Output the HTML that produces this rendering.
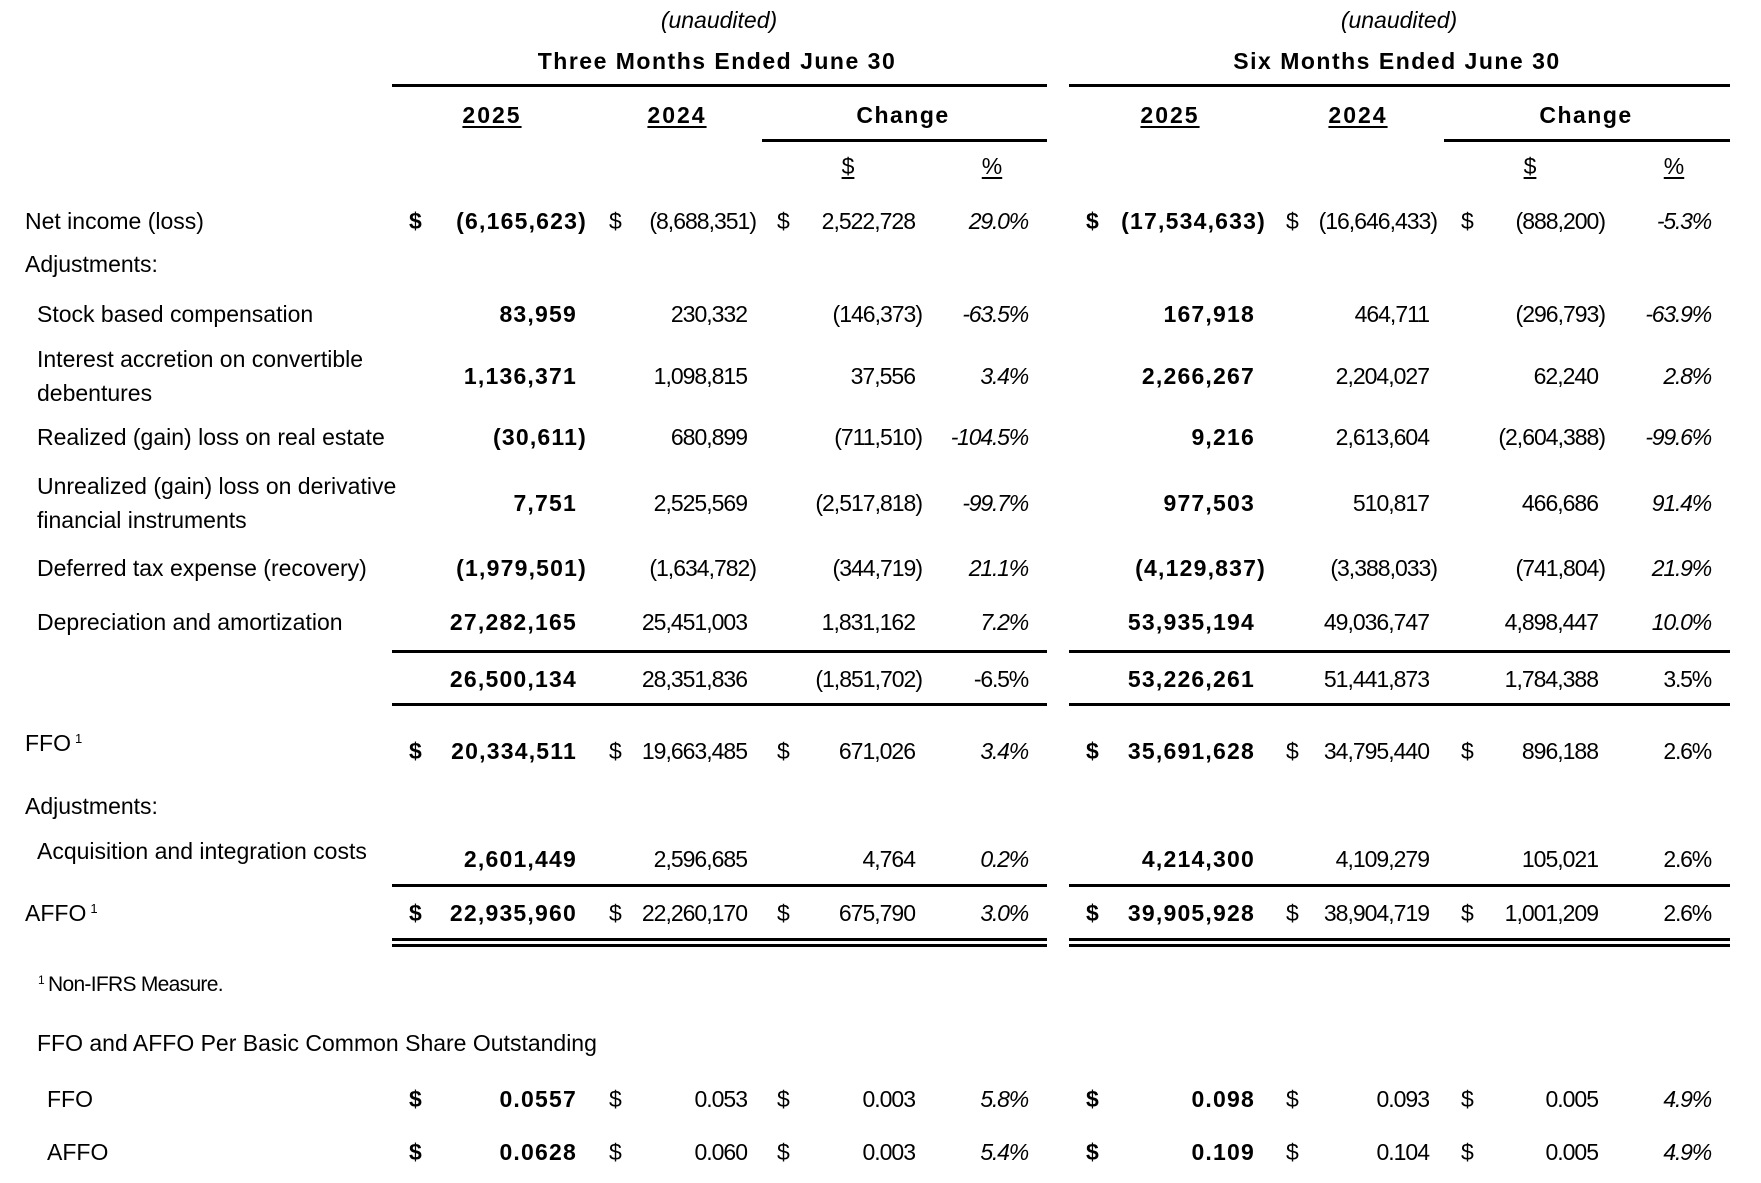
<!DOCTYPE html>
<html>
<head>
<meta charset="utf-8">
<style>
html,body{margin:0;padding:0;background:#fff;}
body{width:1761px;height:1183px;position:relative;overflow:hidden;font-family:"Liberation Sans",Arial,sans-serif;color:#000;}
.row{position:absolute;left:0;width:1761px;height:30px;}
.t{position:absolute;top:0;height:30px;line-height:30px;font-size:23px;white-space:nowrap;}
.b{font-weight:bold;letter-spacing:1.2px;}
.n{letter-spacing:-1px;}
.p{font-style:italic;letter-spacing:-1.2px;}
.pu{letter-spacing:-1.2px;}
.c1{right:1184px}.c1p{right:1174px}
.c2{right:1014px}.c2p{right:1005px}
.c3{right:846px}.c3p{right:839px}
.c4{right:733px}
.c5{right:506px}.c5p{right:495px}
.c6{right:332px}.c6p{right:324px}
.c7{right:163px}.c7p{right:156px}
.c8{right:50px}
.d1{left:409px}.d2{left:609px}.d3{left:777px}.d5{left:1086px}.d6{left:1286px}.d7{left:1461px}
.l0{left:25px}.l1{left:37px}.l2{left:47px}
.ln{position:absolute;background:#000;height:3px;}
.ctr{position:absolute;top:0;height:30px;line-height:30px;font-size:23px;white-space:nowrap;text-align:center;width:400px;}
.hd{font-weight:bold;letter-spacing:1.5px;}
.yr{font-weight:bold;letter-spacing:2px;text-decoration:underline;text-decoration-thickness:2px;text-underline-offset:3px;}
.ul{text-decoration:underline;text-decoration-thickness:2px;text-underline-offset:3px;}
.sup{position:relative;top:-8px;font-size:13px;margin-left:4px;}
</style>
</head>
<body>

<!-- header -->
<div class="row" style="top:5px">
  <div class="ctr" style="left:519px;font-style:italic">(unaudited)</div>
  <div class="ctr" style="left:1199px;font-style:italic">(unaudited)</div>
</div>
<div class="row" style="top:46px">
  <div class="ctr hd" style="left:517px">Three Months Ended June 30</div>
  <div class="ctr hd" style="left:1197px">Six Months Ended June 30</div>
</div>
<div class="ln" style="top:84px;left:392px;width:655px"></div>
<div class="ln" style="top:84px;left:1069px;width:661px"></div>

<div class="row" style="top:100px">
  <div class="ctr" style="left:292px"><span class="yr">2025</span></div>
  <div class="ctr" style="left:477px"><span class="yr">2024</span></div>
  <div class="ctr hd" style="left:703px">Change</div>
  <div class="ctr" style="left:970px"><span class="yr">2025</span></div>
  <div class="ctr" style="left:1158px"><span class="yr">2024</span></div>
  <div class="ctr hd" style="left:1386px">Change</div>
</div>
<div class="ln" style="top:139px;left:762px;width:285px"></div>
<div class="ln" style="top:139px;left:1444px;width:286px"></div>

<div class="row" style="top:151px">
  <div class="ctr" style="left:648px"><span class="ul">$</span></div>
  <div class="ctr" style="left:792px"><span class="ul">%</span></div>
  <div class="ctr" style="left:1330px"><span class="ul">$</span></div>
  <div class="ctr" style="left:1474px"><span class="ul">%</span></div>
</div>

<!-- Net income -->
<div class="row" style="top:206px">
  <div class="t l0">Net income (loss)</div>
  <div class="t b d1">$</div><div class="t b c1p">(6,165,623)</div>
  <div class="t d2">$</div><div class="t n c2p">(8,688,351)</div>
  <div class="t d3">$</div><div class="t n c3">2,522,728</div>
  <div class="t p c4">29.0%</div>
  <div class="t b d5">$</div><div class="t b c5p">(17,534,633)</div>
  <div class="t d6">$</div><div class="t n c6p">(16,646,433)</div>
  <div class="t d7">$</div><div class="t n c7p">(888,200)</div>
  <div class="t p c8">-5.3%</div>
</div>

<div class="row" style="top:249px"><div class="t l0">Adjustments:</div></div>

<div class="row" style="top:299px">
  <div class="t l1">Stock based compensation</div>
  <div class="t b c1">83,959</div>
  <div class="t n c2">230,332</div>
  <div class="t n c3p">(146,373)</div>
  <div class="t p c4">-63.5%</div>
  <div class="t b c5">167,918</div>
  <div class="t n c6">464,711</div>
  <div class="t n c7p">(296,793)</div>
  <div class="t p c8">-63.9%</div>
</div>

<div class="row" style="top:344px"><div class="t l1">Interest accretion on convertible</div></div>
<div class="row" style="top:378px"><div class="t l1">debentures</div></div>
<div class="row" style="top:361px">
  <div class="t b c1">1,136,371</div>
  <div class="t n c2">1,098,815</div>
  <div class="t n c3">37,556</div>
  <div class="t p c4">3.4%</div>
  <div class="t b c5">2,266,267</div>
  <div class="t n c6">2,204,027</div>
  <div class="t n c7">62,240</div>
  <div class="t p c8">2.8%</div>
</div>

<div class="row" style="top:422px">
  <div class="t l1">Realized (gain) loss on real estate</div>
  <div class="t b c1p">(30,611)</div>
  <div class="t n c2">680,899</div>
  <div class="t n c3p">(711,510)</div>
  <div class="t p c4">-104.5%</div>
  <div class="t b c5">9,216</div>
  <div class="t n c6">2,613,604</div>
  <div class="t n c7p">(2,604,388)</div>
  <div class="t p c8">-99.6%</div>
</div>

<div class="row" style="top:471px"><div class="t l1">Unrealized (gain) loss on derivative</div></div>
<div class="row" style="top:505px"><div class="t l1">financial instruments</div></div>
<div class="row" style="top:488px">
  <div class="t b c1">7,751</div>
  <div class="t n c2">2,525,569</div>
  <div class="t n c3p">(2,517,818)</div>
  <div class="t p c4">-99.7%</div>
  <div class="t b c5">977,503</div>
  <div class="t n c6">510,817</div>
  <div class="t n c7">466,686</div>
  <div class="t p c8">91.4%</div>
</div>

<div class="row" style="top:553px">
  <div class="t l1">Deferred tax expense (recovery)</div>
  <div class="t b c1p">(1,979,501)</div>
  <div class="t n c2p">(1,634,782)</div>
  <div class="t n c3p">(344,719)</div>
  <div class="t p c4">21.1%</div>
  <div class="t b c5p">(4,129,837)</div>
  <div class="t n c6p">(3,388,033)</div>
  <div class="t n c7p">(741,804)</div>
  <div class="t p c8">21.9%</div>
</div>

<div class="row" style="top:607px">
  <div class="t l1">Depreciation and amortization</div>
  <div class="t b c1">27,282,165</div>
  <div class="t n c2">25,451,003</div>
  <div class="t n c3">1,831,162</div>
  <div class="t p c4">7.2%</div>
  <div class="t b c5">53,935,194</div>
  <div class="t n c6">49,036,747</div>
  <div class="t n c7">4,898,447</div>
  <div class="t p c8">10.0%</div>
</div>

<div class="ln" style="top:650px;left:392px;width:655px"></div>
<div class="ln" style="top:650px;left:1069px;width:661px"></div>

<div class="row" style="top:664px">
  <div class="t b c1">26,500,134</div>
  <div class="t n c2">28,351,836</div>
  <div class="t n c3p">(1,851,702)</div>
  <div class="t pu c4">-6.5%</div>
  <div class="t b c5">53,226,261</div>
  <div class="t n c6">51,441,873</div>
  <div class="t n c7">1,784,388</div>
  <div class="t pu c8">3.5%</div>
</div>

<div class="ln" style="top:703px;left:392px;width:655px"></div>
<div class="ln" style="top:703px;left:1069px;width:661px"></div>

<div class="row" style="top:728px"><div class="t l0">FFO<span class="sup">1</span></div></div>
<div class="row" style="top:736px">
  <div class="t b d1">$</div><div class="t b c1">20,334,511</div>
  <div class="t d2">$</div><div class="t n c2">19,663,485</div>
  <div class="t d3">$</div><div class="t n c3">671,026</div>
  <div class="t p c4">3.4%</div>
  <div class="t b d5">$</div><div class="t b c5">35,691,628</div>
  <div class="t d6">$</div><div class="t n c6">34,795,440</div>
  <div class="t d7">$</div><div class="t n c7">896,188</div>
  <div class="t pu c8">2.6%</div>
</div>

<div class="row" style="top:791px"><div class="t l0">Adjustments:</div></div>

<div class="row" style="top:836px"><div class="t l1">Acquisition and integration costs</div></div>
<div class="row" style="top:844px">
  <div class="t b c1">2,601,449</div>
  <div class="t n c2">2,596,685</div>
  <div class="t n c3">4,764</div>
  <div class="t p c4">0.2%</div>
  <div class="t b c5">4,214,300</div>
  <div class="t n c6">4,109,279</div>
  <div class="t n c7">105,021</div>
  <div class="t pu c8">2.6%</div>
</div>

<div class="ln" style="top:884px;left:392px;width:655px"></div>
<div class="ln" style="top:884px;left:1069px;width:661px"></div>

<div class="row" style="top:898px">
  <div class="t l0">AFFO<span class="sup">1</span></div>
  <div class="t b d1">$</div><div class="t b c1">22,935,960</div>
  <div class="t d2">$</div><div class="t n c2">22,260,170</div>
  <div class="t d3">$</div><div class="t n c3">675,790</div>
  <div class="t p c4">3.0%</div>
  <div class="t b d5">$</div><div class="t b c5">39,905,928</div>
  <div class="t d6">$</div><div class="t n c6">38,904,719</div>
  <div class="t d7">$</div><div class="t n c7">1,001,209</div>
  <div class="t pu c8">2.6%</div>
</div>

<div class="ln" style="top:938px;left:392px;width:655px"></div>
<div class="ln" style="top:938px;left:1069px;width:661px"></div>
<div class="ln" style="top:944px;left:392px;width:655px"></div>
<div class="ln" style="top:944px;left:1069px;width:661px"></div>

<div class="row" style="top:970px">
  <div class="t" style="left:38px;font-size:12px;line-height:20px;top:0">1</div>
  <div class="t" style="left:48px;font-size:21px;letter-spacing:-0.7px">Non-IFRS Measure.</div>
</div>

<div class="row" style="top:1028px"><div class="t l1">FFO and AFFO Per Basic Common Share Outstanding</div></div>

<div class="row" style="top:1084px">
  <div class="t l2">FFO</div>
  <div class="t b d1">$</div><div class="t b c1">0.0557</div>
  <div class="t d2">$</div><div class="t n c2">0.053</div>
  <div class="t d3">$</div><div class="t n c3">0.003</div>
  <div class="t p c4">5.8%</div>
  <div class="t b d5">$</div><div class="t b c5">0.098</div>
  <div class="t d6">$</div><div class="t n c6">0.093</div>
  <div class="t d7">$</div><div class="t n c7">0.005</div>
  <div class="t p c8">4.9%</div>
</div>

<div class="row" style="top:1137px">
  <div class="t l2">AFFO</div>
  <div class="t b d1">$</div><div class="t b c1">0.0628</div>
  <div class="t d2">$</div><div class="t n c2">0.060</div>
  <div class="t d3">$</div><div class="t n c3">0.003</div>
  <div class="t p c4">5.4%</div>
  <div class="t b d5">$</div><div class="t b c5">0.109</div>
  <div class="t d6">$</div><div class="t n c6">0.104</div>
  <div class="t d7">$</div><div class="t n c7">0.005</div>
  <div class="t p c8">4.9%</div>
</div>

</body>
</html>
